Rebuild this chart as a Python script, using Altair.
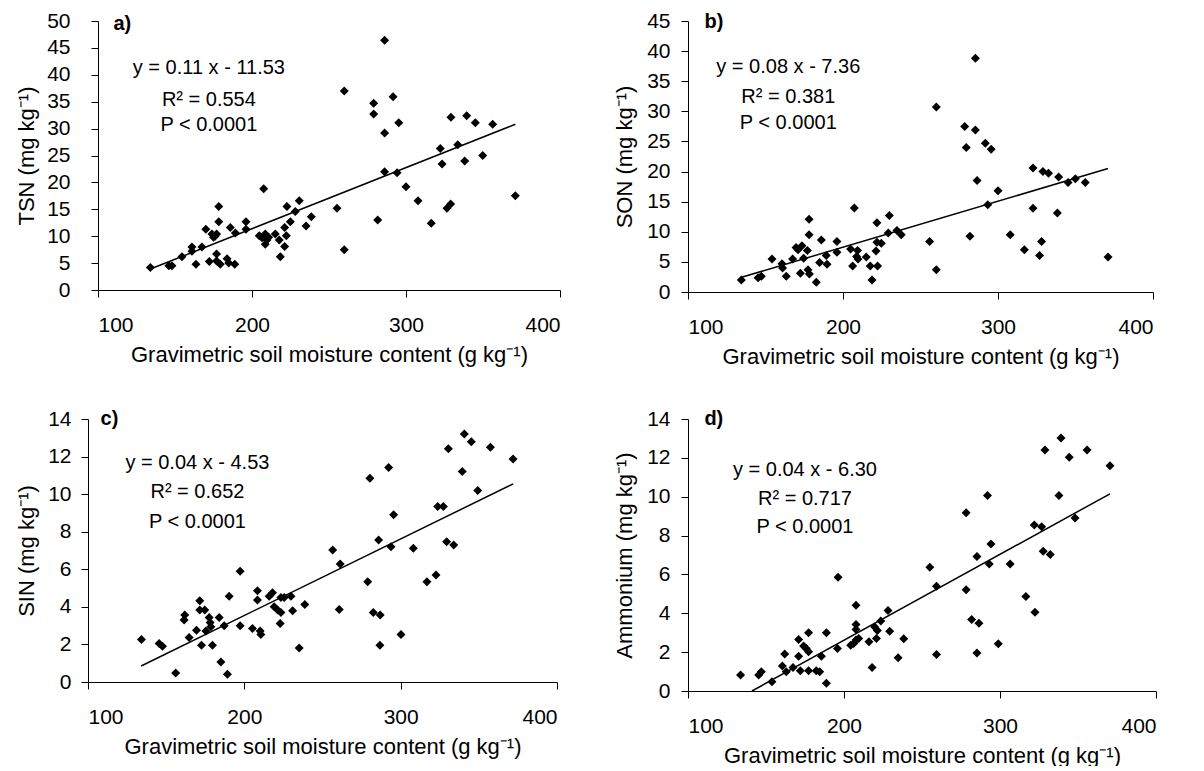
import altair as alt
import pandas as pd

FONT = "Liberation Sans"

# ---------------- data ----------------
x_ticks = [100, 200, 300, 400]
x_title = "Gravimetric soil moisture content (g kg⁻¹)"

# a) TSN
a_x = [134, 146, 148, 154.5, 161, 161, 163.6, 167.5, 170, 172.3,
       174, 175, 176, 177, 178.4, 178.4, 177, 177, 179.4, 183.8,
       184.9, 188.8, 185.9, 189.2, 196.1, 196.1, 207.6, 204.7, 206.5, 208.6,
       208.6, 209.7, 210.8, 215.1, 217.7, 218.4, 221.2, 221.2, 222.3, 222.7,
       224.9, 228.1, 230.7, 235.1, 238.5, 255.2, 259.9, 259.9, 286.1, 279,
       279, 291.6, 295.3, 286.1, 329.2, 339.4, 345, 356.3, 322.3, 333.6,
       323.4, 338.1, 349.8, 286.1, 294.2, 300, 307.8, 281.6, 316.4, 326.6,
       329, 371]
a_y = [4.2, 4.5, 4.5, 6.2, 8.0, 7.2, 4.8, 8.0, 11.3, 5.3,
       10.4, 9.8, 10.0, 10.4, 15.5, 12.7, 6.7, 5.4, 4.8, 5.8,
       5.0, 4.8, 11.6, 10.6, 12.7, 11.3, 18.8, 10.1, 9.7, 10.4,
       8.5, 9.3, 9.8, 10.4, 9.3, 6.2, 11.6, 8.1, 10.1, 15.5,
       12.7, 14.6, 16.6, 11.9, 13.6, 15.2, 37.0, 7.5, 46.4, 34.7,
       32.7, 35.9, 31.1, 29.2, 32.1, 32.4, 31.1, 30.8, 26.3, 27.0,
       23.4, 24.0, 25.0, 22.0, 21.8, 19.2, 16.6, 13.0, 12.4, 15.2,
       16.0, 17.5]
a_line_x = [134, 371]
a_line_y = [3.9, 30.8]
a_yticks = [0, 5, 10, 15, 20, 25, 30, 35, 40, 45, 50]

# b) SON
b_x = [134.4, 145.2, 147.3, 154.2, 160.6, 161, 163.4, 167.5, 169.7, 171,
       173.5, 174.6, 177, 172.5, 177.4, 178.3, 178.1, 178.1, 182.8, 184.9,
       186, 189.2, 189.7, 196.1, 196.1, 204.9, 206.2, 207.3, 208.8, 209.4,
       209.7, 215, 217.6, 218.7, 221.3, 221.9, 221.9, 222.3, 224.7, 229.9,
       229.2, 234.8, 237.6, 255.9, 260.2, 260.2, 278.5, 279.5, 285.4, 285.4,
       281.9, 286.5, 291.8, 295.6, 293.4, 300, 307.9, 317, 322.6, 322.6,
       326.8, 328.1, 329, 332.6, 339.1, 338.3, 345.2, 349.9, 356.3, 371]
b_y = [2.0, 2.35, 2.6, 5.5, 4.7, 4.0, 2.6, 5.5, 7.4, 7.0,
       7.7, 5.6, 6.9, 3.1, 3.7, 3.0, 12.1, 9.5, 1.6, 4.9,
       8.65, 6.05, 4.6, 8.4, 6.6, 7.15, 4.3, 13.95, 5.9, 6.9,
       5.5, 5.8, 4.3, 2.0, 6.8, 11.5, 8.25, 4.3, 8.1, 12.7,
       9.8, 10.2, 9.5, 8.4, 3.7, 30.7, 27.5, 24.0, 38.8, 26.9,
       9.25, 18.5, 24.7, 23.7, 14.5, 16.8, 9.5, 7.0, 20.6, 13.9,
       6.05, 8.4, 20.0, 19.7, 19.1, 13.1, 18.2, 18.8, 18.2, 5.8]
b_line_x = [134, 371]
b_line_y = [2.4, 20.5]
b_yticks = [0, 5, 10, 15, 20, 25, 30, 35, 40, 45]

# c) SIN
c_x = [134.2, 145.5, 147.6, 156.1, 161.9, 161.5, 164.7, 169.4, 171.5, 171.5,
       172.6, 174.7, 175.4, 177.5, 178.1, 178.6, 179.6, 183.9, 185, 187.1,
       189.2, 190.3, 197.3, 197.3, 205.2, 208.4, 208.4, 210.1, 210.6, 215.9,
       218, 219.1, 221.3, 223.4, 222.9, 223.4, 225.5, 229.8, 230.9, 235.1,
       238.7, 256.5, 261.3, 260.7, 280.3, 292.3, 295.5, 285.9, 293.8, 278.9,
       282.5, 286.9, 286.7, 300.2, 308.1, 316.8, 322.6, 323.7, 327.3, 329.4,
       333.9, 330.5, 339.4, 340.7, 345.2, 349.3, 357.4, 371.9]
c_y = [2.26, 2.05, 1.9, 0.48, 3.56, 3.3, 2.37, 2.76, 4.32, 3.83,
       1.96, 3.83, 2.72, 3.44, 3.17, 2.94, 1.96, 3.44, 1.07, 2.99,
       0.41, 4.57, 5.9, 2.99, 2.85, 4.86, 4.36, 2.72, 2.53, 4.57,
       4.75, 4.0, 3.83, 3.7, 3.11, 4.5, 4.5, 4.57, 3.79, 1.81,
       4.13, 7.03, 6.28, 3.86, 10.85, 11.42, 8.9, 7.56, 7.2, 5.34,
       3.7, 3.56, 1.96, 2.53, 7.12, 5.34, 5.69, 9.34, 9.34, 7.47,
       7.29, 12.42, 11.2, 13.2, 12.79, 10.19, 12.5, 11.87]
c_line_x = [134, 372]
c_line_y = [0.85, 10.55]
c_yticks = [0, 2, 4, 6, 8, 10, 12, 14]

# d) Ammonium
d_x = [133.7, 145.3, 147, 153.8, 160.5, 162, 163, 167.3, 170.9, 170.9,
       172, 174.1, 175.8, 177.3, 177.3, 177.3, 182.2, 184.4, 185.5, 188.7,
       188.7, 195.8, 196.2, 204.3, 206.2, 207.7, 207.7, 207.7, 207.7, 209.4,
       216, 218, 219.7, 220.8, 221.4, 223.6, 228.2, 229.3, 234.7, 238.3,
       255, 259.3, 259.3, 278.3, 278.3, 281.8, 286.5, 285.2, 285.2, 292,
       293.1, 294.2, 298.9, 306.5, 316.6, 322, 322.4, 326.7, 327.7, 332.2,
       328.8, 337.8, 339.1, 344.4, 348.1, 355.8, 370.5]
d_y = [0.82, 0.82, 0.99, 0.48, 1.29, 1.9, 0.99, 1.21, 2.65, 1.79,
       1.04, 2.31, 2.19, 3.0, 2.02, 1.04, 1.04, 0.99, 1.79, 3.0,
       0.4, 2.19, 5.85, 2.36, 2.44, 4.42, 3.42, 3.16, 2.62, 2.7,
       2.53, 1.21, 3.3, 2.7, 3.12, 3.6, 4.14, 3.08, 1.71, 2.69,
       6.37, 5.39, 1.88, 9.17, 5.21, 3.68, 3.49, 6.92, 1.96, 10.06,
       6.54, 7.57, 2.43, 6.54, 4.86, 8.55, 4.05, 8.46, 7.19, 7.02,
       12.41, 10.06, 13.02, 12.03, 8.91, 12.41, 11.6]
d_line_x = [141, 370.5]
d_line_y = [0.0, 10.15]
d_yticks = [0, 2, 4, 6, 8, 10, 12, 14]

# annotation texts
a_text = ["y = 0.11 x - 11.53", "R² = 0.554", "P < 0.0001"]
b_text = ["y = 0.08 x - 7.36", "R² = 0.381", "P < 0.0001"]
c_text = ["y = 0.04 x - 4.53", "R² = 0.652", "P < 0.0001"]
d_text = ["y = 0.04 x - 6.30", "R² = 0.717", "P < 0.0001"]


def panel(xs, ys, lx, ly, yticks, ytitle, tag, texts, text_x, text_ys,
          tag_x, tag_y, width, height, ylab_pad, ytitle_pad):
    xscale = alt.Scale(domain=[100, 400], nice=False, zero=False)
    yscale = alt.Scale(domain=[yticks[0], yticks[-1]], nice=False, zero=False)
    xaxis = alt.Axis(values=x_ticks, title=x_title, tickSize=7,
                     labelPadding=17, titlePadding=9, grid=False)
    yaxis = alt.Axis(values=yticks, title=ytitle, tickSize=7,
                     labelPadding=ylab_pad, titlePadding=ytitle_pad, grid=False)
    X = alt.X("x:Q", scale=xscale, axis=xaxis)
    Y = alt.Y("y:Q", scale=yscale, axis=yaxis)

    pts = alt.Chart(pd.DataFrame({"x": xs, "y": ys})).mark_point(
        shape="diamond", filled=True, color="black", opacity=1, size=81
    ).encode(x=X, y=Y)
    line = alt.Chart(pd.DataFrame({"x": lx, "y": ly})).mark_line(
        color="black", strokeWidth=1.5
    ).encode(x=X, y=Y)
    ann = alt.Chart(pd.DataFrame({"x": [text_x] * 3, "y": text_ys, "t": texts})).mark_text(
        font=FONT, fontSize=20, align="center", baseline="middle", color="black"
    ).encode(x=X, y=Y, text="t:N")
    lab = alt.Chart(pd.DataFrame({"x": [tag_x], "y": [tag_y], "t": [tag]})).mark_text(
        font=FONT, fontSize=20, fontWeight="bold", align="left", baseline="middle",
        color="black"
    ).encode(x=X, y=Y, text="t:N")
    return alt.layer(pts, line, ann, lab).properties(width=width, height=height)


def spacer():
    # invisible 1-px cell so that each row's first panel is offset by its own axis width
    return alt.Chart(pd.DataFrame({"v": [0]})).mark_text(text="", opacity=0).encode(
        x=alt.value(0), y=alt.value(0)
    ).properties(width=1, height=1)


pa = panel(a_x, a_y, a_line_x, a_line_y, a_yticks, "TSN (mg kg⁻¹)", "a)",
           a_text, 172, [41.3, 35.4, 30.7], 110, 49.5, 462, 269, 21, 8)
pb = panel(b_x, b_y, b_line_x, b_line_y, b_yticks, "SON (mg kg⁻¹)", "b)",
           b_text, 164.7, [37.3, 32.3, 28.0], 110.7, 44.9, 465, 271, 11, 10)
pc = panel(c_x, c_y, c_line_x, c_line_y, c_yticks, "SIN (mg kg⁻¹)", "c)",
           c_text, 170, [11.65, 10.1, 8.54], 108, 14.0, 469, 263, 10, 9.6)
pd_ = panel(d_x, d_y, d_line_x, d_line_y, d_yticks, "Ammonium (mg kg⁻¹)", "d)",
            d_text, 175, [11.4, 9.9, 8.42], 110.5, 14.0, 468, 272, 11, 10)

row1 = alt.hconcat(spacer(), alt.hconcat(pa, pb, spacing=52), spacing=0)
row2 = alt.hconcat(spacer(), alt.hconcat(pc, pd_, spacing=55), spacing=0)

chart = alt.vconcat(row1, row2, spacing=41).properties(
    padding={"left": 14, "top": 10, "right": 0, "bottom": 0},
    background="white",
).configure_axis(
    labelFont=FONT, titleFont=FONT, labelFontSize=21, titleFontSize=22,
    titleFontWeight="normal", labelColor="black", titleColor="black",
    domainColor="black", tickColor="black", domainWidth=1, tickWidth=1,
).configure_view(stroke=None)

chart.save("out.html", embed_options={"renderer": "svg", "actions": False})
